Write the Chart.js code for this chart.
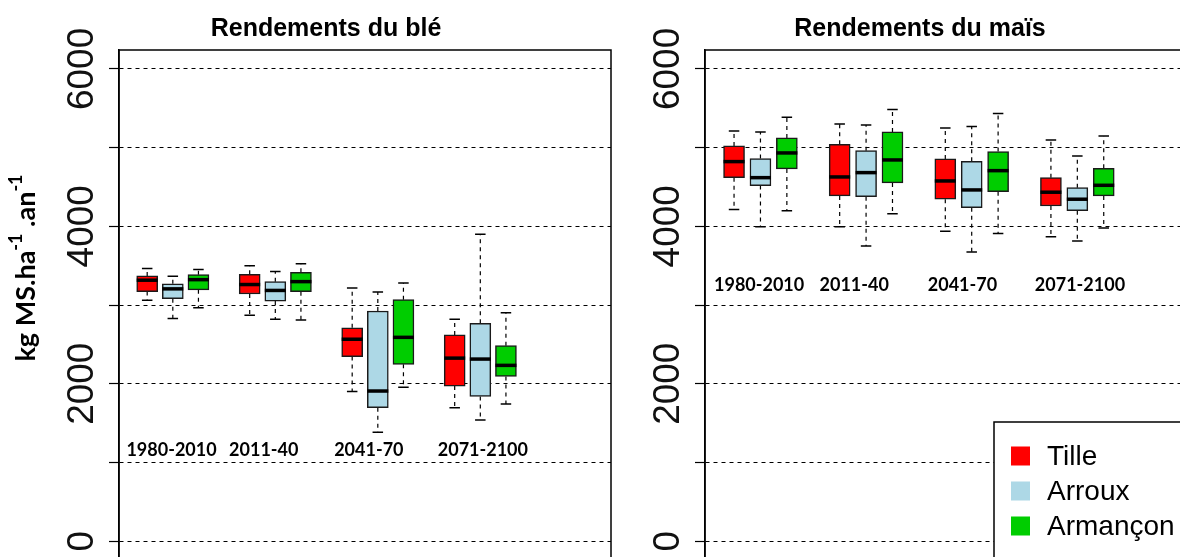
<!DOCTYPE html>
<html lang="fr">
<head>
<meta charset="utf-8">
<title>Rendements</title>
<script src="https://cdn.jsdelivr.net/npm/chart.js@4/dist/chart.umd.min.js"></script>
<style>
  html, body { margin: 0; padding: 0; background: #fff; }
  #page { position: relative; width: 1180px; height: 557px; overflow: hidden; background: #fff; }
  #page canvas { position: absolute; top: 0; }
  #ble { left: 0; }
  #mais { left: 620px; }
</style>
</head>
<body>
<div id="page">
  <canvas id="ble" width="640" height="580"></canvas>
  <canvas id="mais" width="620" height="580"></canvas>
</div>
<script>
// périodes et bassins
const periodes = ['1980-2010', '2011-40', '2041-70', '2071-2100'];
const bassins = ['Tille', 'Arroux', 'Armançon'];
const couleurs = ['#ff0000', '#add8e6', '#00cd00'];
const yTicks = [0, 1000, 2000, 3000, 4000, 5000, 6000];
const yTickLabels = ['0', '', '2000', '', '4000', '', '6000'];

// une boîte par période : [min, q1, médiane, q3, max] (kg MS/ha/an)
const bleTille    = [[3060, 3170, 3315, 3370, 3465], [2870, 3140, 3260, 3390, 3500], [1900, 2345, 2565, 2710, 3215], [1695, 1970, 2325, 2620, 2820]];
const bleArroux   = [[2830, 3080, 3205, 3270, 3365], [2820, 3050, 3185, 3297, 3425], [1382, 1695, 1907, 2924, 3165], [1538, 1839, 2313, 2767, 3898]];
const bleArmancon = [[2965, 3193, 3322, 3385, 3450], [2809, 3169, 3297, 3415, 3525], [1954, 2246, 2589, 3068, 3280], [1741, 2093, 2233, 2483, 2902]];

const maisTille    = [[4212, 4618, 4822, 5021, 5212], [3995, 4386, 4627, 5042, 5301], [3937, 4344, 4576, 4856, 5250], [3868, 4258, 4433, 4618, 5097]];
const maisArroux   = [[3995, 4517, 4618, 4860, 5199], [3750, 4377, 4682, 4961, 5288], [3674, 4237, 4462, 4826, 5267], [3813, 4199, 4344, 4491, 4894]];
const maisArmancon = [[4199, 4729, 4932, 5123, 5386], [4161, 4551, 4843, 5199, 5483], [3907, 4440, 4707, 4949, 5432], [3979, 4386, 4521, 4738, 5148]];

// position x d'une boîte : 3 boîtes par période + un vide
function posX(g, b) { return 1 + 4 * g + b; }
const labelPos = [1.95, 5.55, 9.65, 14.1];

const LARGEUR = 21;

// moustaches, médianes, cadre, textes
const boitesPlugin = {
    id: 'boites',
    beforeDatasetsDraw(chart, args, opts) {
        const ctx = chart.ctx, x = chart.scales.x, y = chart.scales.y;
        ctx.save();
        ctx.strokeStyle = '#000';
        opts.stats.forEach((serie, b) => {
            serie.forEach((s, g) => {
                const px = x.getPixelForValue(posX(g, b));
                const [mn, q1, , q3, mx] = s.map(v => y.getPixelForValue(v));
                ctx.lineWidth = 1.2;
                ctx.setLineDash([4, 4]);
                ctx.beginPath();
                ctx.moveTo(px, q3); ctx.lineTo(px, mx);
                ctx.moveTo(px, q1); ctx.lineTo(px, mn);
                ctx.stroke();
                ctx.setLineDash([]);
                ctx.lineWidth = 1.5;
                ctx.beginPath();
                ctx.moveTo(px - LARGEUR / 4, mx); ctx.lineTo(px + LARGEUR / 4, mx);
                ctx.moveTo(px - LARGEUR / 4, mn); ctx.lineTo(px + LARGEUR / 4, mn);
                ctx.stroke();
            });
        });
        ctx.restore();
    },
    afterDatasetsDraw(chart, args, opts) {
        const ctx = chart.ctx, x = chart.scales.x, y = chart.scales.y;
        ctx.save();
        ctx.strokeStyle = '#000';
        ctx.lineWidth = 3.5;
        opts.stats.forEach((serie, b) => {
            serie.forEach((s, g) => {
                const px = x.getPixelForValue(posX(g, b));
                const pm = y.getPixelForValue(s[2]);
                ctx.beginPath();
                ctx.moveTo(px - LARGEUR / 2, pm); ctx.lineTo(px + LARGEUR / 2, pm);
                ctx.stroke();
            });
        });
        ctx.restore();
    },
    afterDraw(chart, args, opts) {
        const ctx = chart.ctx, x = chart.scales.x, y = chart.scales.y, area = chart.chartArea;
        ctx.save();
        // cadre
        ctx.strokeStyle = '#000';
        ctx.lineWidth = 1.5;
        ctx.strokeRect(area.left, area.top, area.right - area.left, area.bottom - area.top);

        // graduations verticales
        ctx.fillStyle = '#111';
        ctx.font = '37px "Liberation Sans", Arial, sans-serif';
        ctx.textAlign = 'center';
        ctx.textBaseline = 'middle';
        yTicks.forEach((v, i) => {
            if (!yTickLabels[i]) return;
            ctx.save();
            ctx.translate(area.left - 36, y.getPixelForValue(v));
            ctx.rotate(-Math.PI / 2);
            ctx.fillText(yTickLabels[i], 0, 0);
            ctx.restore();
        });

        // noms des périodes
        ctx.fillStyle = '#000';
        ctx.font = 'bold 18px Lato, "Liberation Sans", sans-serif';
        periodes.forEach((p, g) => {
            ctx.fillText(p, x.getPixelForValue(labelPos[g]), y.getPixelForValue(opts.labelY));
        });

        // titre de l'axe y
        if (opts.yTitle) {
            const parts = [['kg MS.ha', false], ['-1', true], [' .an', false], ['-1', true]];
            const big = 'bold 27px Lato, sans-serif', small = 'bold 18px Lato, sans-serif';
            let total = 0;
            parts.forEach(([t, sup]) => { ctx.font = sup ? small : big; total += ctx.measureText(t).width; });
            ctx.save();
            ctx.translate(35, 268);
            ctx.rotate(-Math.PI / 2);
            ctx.textAlign = 'left';
            ctx.textBaseline = 'alphabetic';
            let cx = -total / 2;
            parts.forEach(([t, sup]) => {
                ctx.font = sup ? small : big;
                ctx.fillText(t, cx, sup ? -13 : 0);
                cx += ctx.measureText(t).width;
            });
            ctx.restore();
        }

        // légende
        if (opts.legend) {
            const left = area.right - 218, top = area.bottom - 138;
            ctx.fillStyle = '#fff';
            ctx.fillRect(left, top, area.right - left, area.bottom - top);
            ctx.strokeStyle = '#000';
            ctx.lineWidth = 1.5;
            ctx.strokeRect(left, top, area.right - left, area.bottom - top);
            ctx.font = '28px "Liberation Sans", Arial, sans-serif';
            ctx.textAlign = 'left';
            ctx.textBaseline = 'middle';
            bassins.forEach((nom, b) => {
                const cy = top + 34 + b * 35;
                ctx.fillStyle = couleurs[b];
                ctx.fillRect(left + 17, cy - 9.5, 19, 19);
                ctx.fillStyle = '#000';
                ctx.fillText(nom, left + 53, cy + 1);
            });
        }
        ctx.restore();
    }
};

function boxDatasets(stats) {
    return bassins.map((nom, b) => ({
        label: nom,
        data: stats[b].map((s, g) => ({ x: posX(g, b), y: [s[1], s[3]] })),
        backgroundColor: couleurs[b],
        borderColor: '#1a1a1a',
        borderWidth: 1.5,
        borderSkipped: false,
        barThickness: LARGEUR,
        grouped: false
    }));
}

function makeChart(id, titre, stats, yAxisWidth, padding, extra) {
    return new Chart(document.getElementById(id), {
        type: 'bar',
        data: { datasets: boxDatasets(stats) },
        options: {
            responsive: false,
            animation: false,
            layout: { padding: padding },
            scales: {
                x: { type: 'linear', min: -0.1, max: 19.1, offset: false, display: false },
                y: {
                    min: -240, max: 6240,
                    afterBuildTicks: s => { s.ticks = yTicks.map(v => ({ value: v })); },
                    afterFit: s => { s.width = yAxisWidth; },
                    ticks: { display: false },
                    grid: { color: '#000', lineWidth: 1, tickLength: 10, tickColor: '#000', tickWidth: 1.2 },
                    border: { display: true, color: '#000', width: 1.5, dash: [4, 4] }
                }
            },
            plugins: {
                legend: { display: false },
                tooltip: { enabled: false },
                title: {
                    display: true,
                    text: titre,
                    color: '#000',
                    font: { family: '"Liberation Sans", Arial, sans-serif', size: 25, weight: 'bold' },
                    padding: { top: 14, bottom: 6 }
                },
                boites: Object.assign({ stats: stats }, extra)
            }
        },
        plugins: [boitesPlugin]
    });
}

makeChart('ble', 'Rendements du blé', [bleTille, bleArroux, bleArmancon], 78,
    { left: 41, right: 29, top: 0, bottom: 20 }, { labelY: 1150, yTitle: true, legend: false });
makeChart('mais', 'Rendements du maïs', [maisTille, maisArroux, maisArmancon], 77,
    { left: 8, right: 28, top: 0, bottom: 20 }, { labelY: 3250, yTitle: false, legend: true });
</script>
</body>
</html>
